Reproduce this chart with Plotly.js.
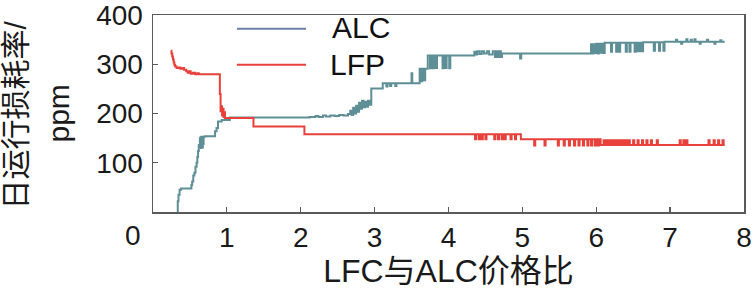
<!DOCTYPE html>
<html>
<head>
<meta charset="utf-8">
<script src="https://cdn.plot.ly/plotly-3.0.1.min.js"></script>
<style>html,body{margin:0;padding:0;background:#fff;}#chart{width:753px;height:297px;}</style>
</head>
<body>
<div id="chart"></div>
<script>
// Tick labels
const xTickVals = [1, 2, 3, 4, 5, 6, 7, 8];
const xTickText = ['1', '2', '3', '4', '5', '6', '7', '8'];
const yTickVals = [100, 200, 300, 400];
const yTickText = ['100', '200', '300', '400'];
const seriesNames = ['ALC', 'LFP'];

// ALC series: [price ratio, daily loss rate ppm] (step line)
const alcPoints = [
[0.33,0],[0.335,22],[0.345,35],[0.36,45],[0.38,48],[0.52,55],[0.53,62],[0.545,74],[0.56,80],[0.575,92],[0.59,100],[0.60,112],[0.61,124],[0.62,136],[0.635,150],
[0.64,132],[0.645,152],[0.65,130],[0.655,153],[0.66,134],[0.665,152],[0.67,131],[0.675,153],[0.68,138],[0.685,153],[0.70,154],
[0.84,164],[0.86,171],[0.88,184],[0.93,187],[1.04,192],
[2.12,193],[2.20,195],[2.24,193],[2.30,196],[2.34,194],[2.40,196],[2.46,195],[2.52,197],[2.58,196],[2.64,199],
[2.67,206],[2.69,197],[2.71,212],[2.73,200],[2.75,216],[2.77,204],[2.79,222],[2.81,210],[2.83,226],[2.85,213],[2.87,224],[2.89,214],[2.91,226],[2.93,218],
[2.955,251],[3.11,262],[3.16,255],[3.175,262],[3.21,256],[3.225,262],[3.28,256],[3.295,262],[3.50,282],[3.51,262],
[3.61,291],[3.63,266],[3.645,291],[3.67,268],[3.685,291],[3.72,318],[3.75,292],[3.765,318],[3.79,292],[3.805,318],[3.83,293],[3.845,318],[3.92,292],[3.935,318],[3.96,293],[3.975,318],[4.01,292],[4.025,318],
[4.35,326],[4.37,320],[4.39,327],[4.42,321],[4.45,327],[4.48,322],[4.52,327],[4.55,320],[4.60,327],[4.63,315],[4.645,327],[4.67,315],[4.685,327],[4.71,315],[4.725,322],[4.97,312],[4.985,322],
[5.93,341],[5.95,322],[5.965,341],[5.985,323],[6.0,342],[6.02,322],[6.035,342],[6.06,324],[6.075,342],[6.10,323],[6.115,344],
[6.20,326],[6.215,344],[6.27,326],[6.285,344],[6.31,326],[6.325,344],[6.40,326],[6.415,344],[6.45,326],[6.465,344],[6.52,326],[6.535,344],[6.56,327],[6.57,344],[6.58,327],[6.59,344],[6.60,327],[6.61,344],[6.62,327],[6.635,345],[6.78,328],[6.795,345],[6.85,328],[6.865,345],[6.91,328],[6.925,346],
[7.08,350],[7.095,346],[7.15,342],[7.165,346],[7.22,351],[7.235,346],[7.28,350],[7.295,346],[7.33,351],[7.345,346],[7.40,342],[7.415,346],[7.50,350],[7.515,346],[7.60,342],[7.615,346],[7.68,349],[7.695,346],[7.74,346]
];

// LFP series: [price ratio, daily loss rate ppm] (step line)
const lfpPoints = [
[0.24,328],[0.25,322],[0.26,316],[0.27,310],[0.28,304],[0.29,299],[0.30,296],[0.32,293],[0.35,294],[0.37,291],[0.40,293],[0.42,289],[0.45,286],[0.47,283],[0.49,286],[0.51,281],[0.54,283],[0.57,280],[0.60,282],[0.62,280],
[0.905,240],[0.915,205],[0.925,215],[0.935,196],[0.945,210],[0.955,193],[0.965,203],[0.975,191],[1.36,174],[2.05,158],
[4.36,148],[4.375,158],[4.41,148],[4.425,158],[4.45,148],[4.465,158],[4.50,148],[4.515,158],[4.62,148],[4.635,158],[4.67,148],[4.685,158],[4.72,148],[4.735,158],[4.76,148],[4.775,158],[4.84,148],[4.855,158],[4.90,148],[4.915,158],[4.98,148],
[5.16,135],[5.175,148],[5.30,135],[5.315,148],[5.48,135],[5.495,148],[5.56,135],[5.575,148],[5.63,135],[5.645,148],[5.70,135],[5.715,148],[5.76,135],[5.775,148],[5.82,135],[5.835,148],[5.88,135],[5.895,148],[5.93,135],[5.945,148],[5.98,135],[5.995,148],[6.02,135],[6.035,148],[6.06,136],
[6.10,146],[6.115,136],[6.13,146],[6.145,136],[6.16,146],[6.175,136],[6.19,146],[6.205,136],[6.22,146],[6.235,136],[6.25,146],[6.265,136],[6.28,146],[6.295,136],[6.31,146],[6.325,136],[6.34,146],[6.355,136],[6.37,146],[6.385,136],[6.40,146],[6.415,136],[6.44,146],[6.455,136],[6.50,146],[6.515,136],[6.56,146],[6.575,136],[6.62,146],[6.635,136],[6.68,146],[6.695,136],[6.74,146],[6.755,136],[6.82,146],[6.835,136],
[7.13,146],[7.145,136],[7.18,146],[7.195,136],[7.22,146],[7.235,136],[7.52,146],[7.535,136],[7.59,146],[7.605,136],[7.65,146],[7.665,136],[7.71,146],[7.725,136],[7.74,136]
];

const alcColor = '#5e8f97';
const lfpColor = '#e8403a';
const alcLegendColor = '#6d80a6';
const latin = 'Liberation Sans, Arial, sans-serif';
const mixed = 'Liberation Sans, Noto Sans CJK SC, sans-serif';

const traces = [
  {x: alcPoints.map(p => p[0]), y: alcPoints.map(p => p[1]), name: seriesNames[0], type: 'scatter', mode: 'lines',
   line: {color: alcColor, width: 2, shape: 'hv'}, showlegend: false},
  {x: lfpPoints.map(p => p[0]), y: lfpPoints.map(p => p[1]), name: seriesNames[1], type: 'scatter', mode: 'lines',
   line: {color: lfpColor, width: 2, shape: 'hv'}, showlegend: false}
];

const axisCommon = {
  showgrid: false, zeroline: false, showline: true, mirror: true,
  linecolor: '#5a5a5a', linewidth: 1.5,
  ticks: 'inside', ticklen: 5, tickwidth: 1.2, tickcolor: '#5a5a5a',
  ticklabeloverflow: 'allow',
  tickfont: {family: latin, size: 28, color: '#1a1a1a'}
};

const layout = {
  width: 753, height: 297,
  margin: {l: 153, r: 9, t: 15, b: 85},
  paper_bgcolor: '#fff', plot_bgcolor: '#fff',
  showlegend: false,
  xaxis: Object.assign({}, axisCommon, {
    range: [0, 8.001], tickvals: xTickVals, ticktext: xTickText, ticklabelstandoff: 0,
    title: {text: 'LFC与ALC价格比', font: {family: mixed, size: 32, color: '#1a1a1a'}, standoff: 6}
  }),
  yaxis: Object.assign({}, axisCommon, {
    range: [0, 400.5], tickvals: yTickVals, ticktext: yTickText, ticklabelstandoff: 3
  }),
  shapes: [
    {type: 'line', xref: 'paper', yref: 'paper', x0: 0.142, x1: 0.259, y0: 0.93, y1: 0.93, line: {color: alcLegendColor, width: 2}},
    {type: 'line', xref: 'paper', yref: 'paper', x0: 0.142, x1: 0.259, y0: 0.747, y1: 0.747, line: {color: lfpColor, width: 2}}
  ],
  annotations: [
    {text: seriesNames[0], xref: 'paper', yref: 'paper', x: 0.2995, y: 0.937, xanchor: 'left', yanchor: 'middle', showarrow: false, font: {family: latin, size: 30, color: '#111'}},
    {text: seriesNames[1], xref: 'paper', yref: 'paper', x: 0.296, y: 0.747, xanchor: 'left', yanchor: 'middle', showarrow: false, font: {family: latin, size: 30, color: '#111'}},
    {text: '0', xref: 'paper', yref: 'paper', x: -0.0338, y: -0.117, xanchor: 'center', yanchor: 'middle', showarrow: false, font: {family: latin, size: 28, color: '#1a1a1a'}},
    {text: '日运行损耗率/', xref: 'paper', yref: 'paper', x: -0.2335, y: 0.49, xanchor: 'center', yanchor: 'middle', textangle: -90, showarrow: false, font: {family: mixed, size: 30, color: '#1a1a1a'}},
    {text: 'ppm', xref: 'paper', yref: 'paper', x: -0.1607, y: 0.50, xanchor: 'center', yanchor: 'middle', textangle: -90, showarrow: false, font: {family: latin, size: 30, color: '#1a1a1a'}}
  ]
};

Plotly.newPlot('chart', traces, layout, {staticPlot: true, displayModeBar: false});
</script>
</body>
</html>
